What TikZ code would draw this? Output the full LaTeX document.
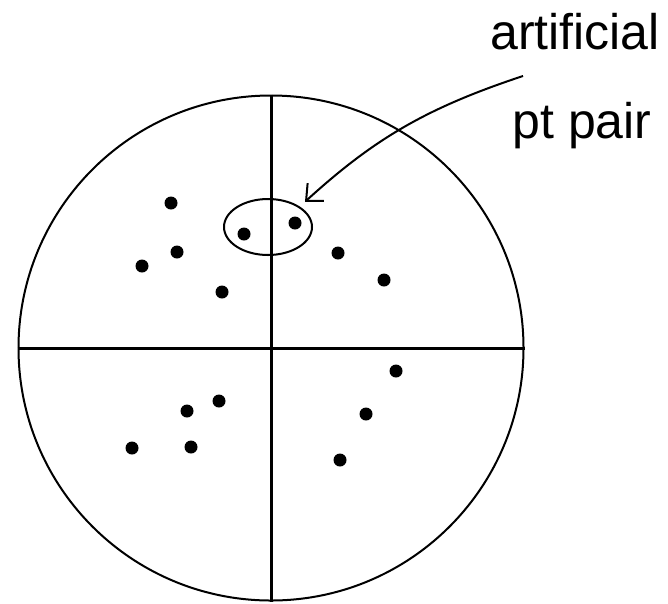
\documentclass[tikz,border=0pt]{standalone}
\usepackage{fontspec}
\setmainfont{Liberation Sans}
\usetikzlibrary{shapes.geometric,arrows.meta}
\begin{document}
\begin{tikzpicture}[x=1pt, y=-1pt, font=\fontsize{50}{60}\selectfont]
	\useasboundingbox (0,0) rectangle (668,603);
	\node[circle, draw, line width=2pt, minimum size=505pt, inner sep=0pt] (disk) at (271,348) {};
	\draw[line width=3pt] (disk.north) -- (disk.south);
	\draw[line width=3pt] (disk.west) -- (disk.east);
	\node[ellipse, draw, line width=2pt, minimum width=88pt, minimum height=56pt, inner sep=0pt] (pair) at (268,227) {};
	\foreach \x/\y in {171/203, 177/252, 142/266, 222/292, 244/234, 295/223, 338/253, 384/280,
		396/371, 366/414, 340/460, 219/401, 187/411, 191/447, 132/448}
		\fill (\x,\y) circle (6.5pt);
	\node[anchor=base, inner sep=0pt] (lbla) at (575,49) {artificial};
	\node[anchor=base, inner sep=0pt] (lblb) at (582,138) {pt pair};
	\coordinate (tail) at (523,76);
	\draw[line width=2pt, -{Straight Barb[length=13pt, width=24pt]}, shorten >=7pt] (tail) to[bend right=12] (pair.north east);
\end{tikzpicture}
\end{document}
